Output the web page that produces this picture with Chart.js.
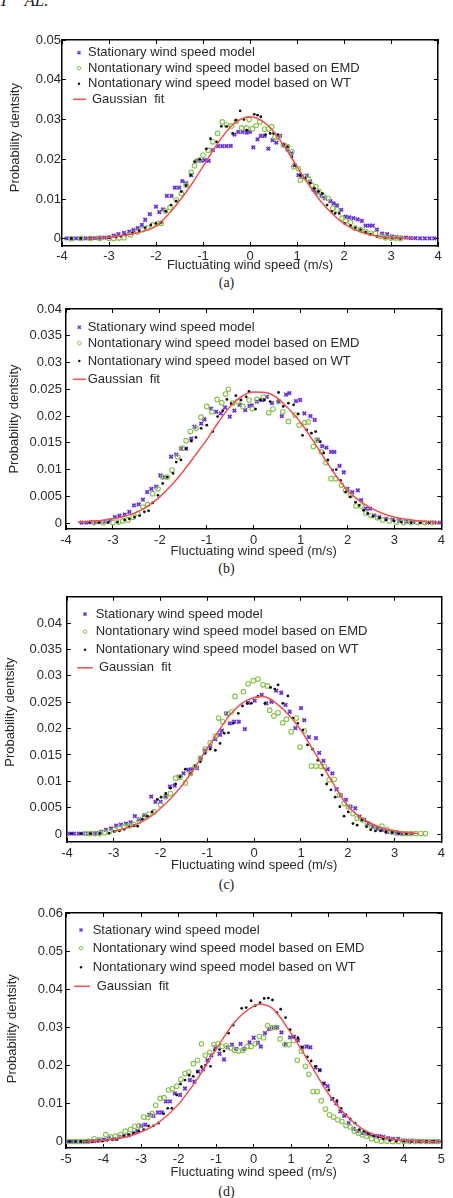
<!DOCTYPE html>
<html>
<head>
<meta charset="utf-8">
<script src="https://cdn.jsdelivr.net/npm/chart.js@4.4.1/dist/chart.umd.min.js"></script>
<style>
  html, body { margin: 0; padding: 0; background: #fff; }
  body { position: relative; width: 453px; height: 1198px; overflow: hidden; }
  canvas { position: absolute; left: 0; }
  .cap { position: absolute; left: 0; width: 453px; text-align: center; font: 14px "Liberation Serif", "Times New Roman", serif; color: #222; line-height: 16px; }
  .head { position: absolute; left: -1px; top: -9px; font: italic 17px "Liberation Serif", serif; color: #222; }
</style>
</head>
<body>
<div class="head">T<span style="margin-left:16px">AL.</span></div>

<canvas id="chartA" width="453" height="250" style="top:25px"></canvas>
<div class="cap" style="top:275px">(a)</div>
<canvas id="chartB" width="453" height="271" style="top:290px"></canvas>
<div class="cap" style="top:561px">(b)</div>
<canvas id="chartC" width="453" height="295" style="top:580px"></canvas>
<div class="cap" style="top:877px">(c)</div>
<canvas id="chartD" width="453" height="287" style="top:895px"></canvas>
<div class="cap" style="top:1184px">(d)</div>

<script>
// ---- data: [x (m/s), probability density] ----

// (a)
const aStationary = [[-3.9,0.0001],[-3.8,0.0001],[-3.7,0.0001],[-3.6,0.0001],[-3.5,0.0001],[-3.4,0.0002],[-3.3,0.0002],[-3.2,0.0003],[-3.1,0.0003],[-3.0,0.0004],[-2.9,0.0008],[-2.8,0.0012],[-2.68,0.0015],[-2.57,0.0018],[-2.48,0.0022],[-2.39,0.0027],[-2.3,0.0035],[-2.23,0.0048],[-2.13,0.0062],[-2.0,0.0081],[-1.93,0.0067],[-1.85,0.0074],[-1.77,0.0108],[-1.67,0.0108],[-1.6,0.0129],[-1.51,0.0129],[-1.44,0.0145],[-1.36,0.014],[-1.25,0.016],[-1.13,0.0196],[-1.04,0.0196],[-0.96,0.0198],[-0.88,0.0196],[-0.79,0.0223],[-0.68,0.0233],[-0.59,0.0233],[-0.5,0.0233],[-0.41,0.0234],[-0.33,0.0262],[-0.25,0.0269],[-0.16,0.0269],[-0.07,0.0267],[0.0,0.0269],[0.07,0.023],[0.16,0.025],[0.23,0.0259],[0.31,0.0259],[0.39,0.0227],[0.48,0.0248],[0.56,0.0242],[0.64,0.0259],[0.73,0.0236],[0.8,0.0225],[0.88,0.0215],[0.95,0.0185],[1.03,0.016],[1.1,0.0156],[1.21,0.0159],[1.28,0.0144],[1.35,0.0124],[1.42,0.0116],[1.52,0.0109],[1.6,0.0102],[1.71,0.0095],[1.78,0.0089],[1.85,0.0084],[1.94,0.0073],[2.03,0.0056],[2.11,0.0054],[2.2,0.0052],[2.29,0.0049],[2.38,0.0045],[2.46,0.0033],[2.54,0.0033],[2.61,0.0033],[2.7,0.0023],[2.81,0.0013],[2.92,0.0012],[3.02,0.0006],[3.12,0.0004],[3.22,0.0003],[3.32,0.0003],[3.42,0.0002],[3.52,0.0002],[3.62,0.0001],[3.72,0.0001],[3.82,0.0001],[3.92,0.0001]];
const aEmd = [[-3.8,0.0],[-3.6,0.0001],[-3.4,0.0001],[-3.2,0.0001],[-3.0,0.0001],[-2.9,0.0001],[-2.79,0.0002],[-2.68,0.0003],[-2.54,0.001],[-2.39,0.0017],[-2.29,0.0023],[-2.18,0.0027],[-2.07,0.0035],[-1.96,0.0039],[-1.89,0.0039],[-1.8,0.007],[-1.7,0.0079],[-1.57,0.0098],[-1.46,0.0114],[-1.36,0.0135],[-1.25,0.0167],[-1.18,0.0184],[-1.09,0.0198],[-1.0,0.021],[-0.89,0.0223],[-0.79,0.0244],[-0.69,0.0265],[-0.59,0.0294],[-0.5,0.0286],[-0.39,0.0284],[-0.29,0.0296],[-0.18,0.0279],[-0.07,0.0279],[-0.02,0.03],[0.05,0.0277],[0.13,0.0285],[0.21,0.0294],[0.31,0.0276],[0.39,0.0276],[0.46,0.0282],[0.53,0.0256],[0.6,0.0256],[0.71,0.0236],[0.8,0.0232],[0.89,0.0219],[0.93,0.0181],[1.03,0.0176],[1.07,0.0148],[1.16,0.0156],[1.25,0.015],[1.32,0.0135],[1.4,0.0131],[1.47,0.0119],[1.57,0.0106],[1.66,0.0102],[1.76,0.0077],[1.85,0.0073],[1.96,0.0052],[2.03,0.0045],[2.14,0.0042],[2.23,0.0027],[2.35,0.0023],[2.46,0.0018],[2.56,0.0014],[2.67,0.0014],[2.78,0.0006],[2.88,0.0003],[3.0,0.0002],[3.1,0.0002],[3.2,0.0001]];
const aWt = [[-3.8,0.0001],[-3.6,0.0001],[-3.4,0.0002],[-3.2,0.0002],[-3.0,0.0003],[-2.85,0.0005],[-2.75,0.0007],[-2.64,0.001],[-2.5,0.0014],[-2.36,0.002],[-2.23,0.0028],[-2.11,0.0035],[-2.0,0.0039],[-1.89,0.0041],[-1.79,0.0069],[-1.68,0.0085],[-1.57,0.0095],[-1.46,0.0119],[-1.36,0.0134],[-1.26,0.016],[-1.18,0.0194],[-1.07,0.02],[-0.93,0.0226],[-0.84,0.0252],[-0.71,0.0244],[-0.61,0.0283],[-0.5,0.0283],[-0.37,0.0265],[-0.3,0.0298],[-0.21,0.0322],[-0.13,0.03],[-0.07,0.0273],[0.09,0.0313],[0.16,0.0311],[0.23,0.0307],[0.33,0.0262],[0.43,0.0265],[0.5,0.0265],[0.59,0.0262],[0.71,0.0237],[0.8,0.0232],[0.89,0.0206],[0.96,0.0185],[1.07,0.016],[1.17,0.0152],[1.28,0.014],[1.37,0.0127],[1.46,0.0119],[1.54,0.0114],[1.64,0.0085],[1.74,0.0069],[1.81,0.0064],[1.9,0.0064],[2.01,0.0039],[2.14,0.0033],[2.24,0.0028],[2.35,0.0023],[2.46,0.0017],[2.56,0.0012],[2.7,0.0006],[2.88,0.0003],[3.02,0.0002],[3.2,0.0001]];
const aGauss = [[-3.5,0.0001],[-3.25,0.0002],[-3,0.0004],[-2.75,0.0008],[-2.5,0.0013],[-2.25,0.002],[-2,0.0032],[-1.75,0.006],[-1.5,0.0095],[-1.25,0.0136],[-1,0.0182],[-0.75,0.0229],[-0.5,0.027],[-0.25,0.0297],[0,0.0307],[0.25,0.0297],[0.5,0.027],[0.75,0.0229],[1,0.0182],[1.25,0.0136],[1.5,0.0095],[1.75,0.0063],[2,0.0038],[2.25,0.0022],[2.5,0.0012],[2.75,0.0006],[3,0.0003],[3.25,0.0002],[3.5,0.0001]];
const aXTicks = [-4, -3, -2, -1, 0, 1, 2, 3, 4];
const aYTicks = [0, 0.01, 0.02, 0.03, 0.04, 0.05];

// (b)
const bStationary = [[-3.67,0.0001],[-3.57,0.0001],[-3.47,0.0002],[-3.37,0.0002],[-3.27,0.0002],[-3.17,0.0003],[-3.07,0.0005],[-2.96,0.0011],[-2.86,0.0014],[-2.75,0.0016],[-2.65,0.0021],[-2.55,0.0033],[-2.45,0.0035],[-2.36,0.0044],[-2.27,0.0058],[-2.18,0.0064],[-2.08,0.0068],[-1.99,0.0089],[-1.9,0.0086],[-1.76,0.0124],[-1.65,0.0128],[-1.55,0.0139],[-1.44,0.0139],[-1.33,0.0158],[-1.26,0.018],[-1.12,0.0186],[-1.05,0.0194],[-0.91,0.0214],[-0.8,0.0208],[-0.7,0.0205],[-0.61,0.0216],[-0.51,0.0199],[-0.41,0.021],[-0.3,0.0221],[-0.18,0.0211],[-0.09,0.0219],[-0.04,0.022],[0.07,0.0227],[0.18,0.023],[0.28,0.0236],[0.39,0.0224],[0.53,0.0227],[0.6,0.02],[0.69,0.024],[0.76,0.0243],[0.9,0.0228],[0.99,0.023],[1.08,0.0205],[1.21,0.02],[1.3,0.0193],[1.37,0.0156],[1.46,0.0144],[1.55,0.0141],[1.65,0.0133],[1.72,0.0133],[1.83,0.0107],[1.92,0.0095],[2.0,0.0064],[2.1,0.0058],[2.22,0.0061],[2.29,0.0043],[2.39,0.0027],[2.48,0.0027],[2.57,0.0014],[2.68,0.0011],[2.82,0.0008],[2.96,0.0006],[3.1,0.0004],[3.25,0.0003],[3.4,0.0002],[3.55,0.0002],[3.7,0.0001],[3.85,0.0001],[3.97,0.0001]];
const bEmd = [[-3.4,0.0001],[-3.2,0.0001],[-3.0,0.0001],[-2.88,0.0002],[-2.79,0.0004],[-2.68,0.0006],[-2.57,0.0011],[-2.47,0.0018],[-2.36,0.003],[-2.26,0.0035],[-2.15,0.0055],[-2.04,0.0064],[-1.94,0.0086],[-1.84,0.0086],[-1.74,0.0099],[-1.62,0.0124],[-1.52,0.014],[-1.44,0.0154],[-1.35,0.0171],[-1.23,0.0177],[-1.12,0.0198],[-1.0,0.0218],[-0.89,0.0208],[-0.78,0.0231],[-0.68,0.0225],[-0.6,0.0241],[-0.54,0.025],[-0.45,0.0224],[-0.34,0.0227],[-0.23,0.0218],[-0.1,0.023],[-0.03,0.0214],[0.07,0.0231],[0.21,0.0235],[0.32,0.0206],[0.41,0.0213],[0.53,0.0227],[0.62,0.0208],[0.74,0.019],[0.88,0.0202],[0.97,0.0183],[1.09,0.0188],[1.16,0.0189],[1.27,0.0143],[1.35,0.0155],[1.44,0.0133],[1.54,0.0113],[1.65,0.0083],[1.75,0.0083],[1.87,0.0071],[1.96,0.0061],[2.06,0.0052],[2.18,0.0032],[2.29,0.0032],[2.39,0.0019],[2.5,0.0014],[2.64,0.001],[2.75,0.0006],[2.89,0.0004],[3.05,0.0002],[3.2,0.0001],[3.35,0.0001],[3.5,0.0001],[3.65,0.0001],[3.8,0.0001]];
const bWt = [[-3.5,0.0001],[-3.3,0.0001],[-3.1,0.0001],[-2.9,0.0002],[-2.75,0.0006],[-2.65,0.0008],[-2.54,0.0011],[-2.43,0.0014],[-2.33,0.0021],[-2.24,0.0023],[-2.15,0.0038],[-2.04,0.0052],[-1.94,0.0074],[-1.84,0.0086],[-1.72,0.0093],[-1.65,0.0114],[-1.55,0.0118],[-1.44,0.0139],[-1.33,0.0153],[-1.23,0.016],[-1.12,0.0177],[-1.0,0.0183],[-0.87,0.0171],[-0.77,0.0199],[-0.66,0.021],[-0.57,0.0231],[-0.48,0.0223],[-0.38,0.0238],[-0.27,0.023],[-0.16,0.0236],[-0.1,0.0246],[0.04,0.0213],[0.14,0.023],[0.23,0.023],[0.35,0.0227],[0.53,0.0244],[0.63,0.0218],[0.74,0.0224],[0.85,0.0221],[0.95,0.0204],[1.04,0.0164],[1.13,0.0174],[1.23,0.0168],[1.32,0.0171],[1.42,0.0152],[1.49,0.0131],[1.58,0.0118],[1.68,0.0099],[1.76,0.01],[1.85,0.008],[1.96,0.0058],[2.06,0.0049],[2.17,0.0039],[2.25,0.0033],[2.34,0.0024],[2.43,0.0018],[2.54,0.0013],[2.68,0.001],[2.82,0.0006],[2.99,0.0004],[3.15,0.0002],[3.35,0.0001],[3.55,0.0001],[3.75,0.0001]];
const bGauss = [[-3.75,0.0002],[-3.5,0.0003],[-3.25,0.0005],[-3,0.0008],[-2.75,0.0013],[-2.5,0.002],[-2.25,0.0032],[-2,0.0049],[-1.75,0.0071],[-1.5,0.0097],[-1.25,0.0126],[-1,0.0156],[-0.75,0.0189],[-0.5,0.0218],[-0.25,0.0237],[0,0.0245],[0.25,0.0244],[0.5,0.0234],[0.75,0.0213],[1,0.0188],[1.25,0.0156],[1.5,0.0122],[1.75,0.0089],[2,0.0061],[2.25,0.0042],[2.5,0.0028],[2.75,0.0018],[3,0.0011],[3.25,0.0007],[3.5,0.0004],[3.75,0.0002],[4,0.0001]];
const bXTicks = [-4, -3, -2, -1, 0, 1, 2, 3, 4];
const bYTicks = [0, 0.005, 0.01, 0.015, 0.02, 0.025, 0.03, 0.035, 0.04];

// (c)
const cStationary = [[-3.95,0.0001],[-3.85,0.0001],[-3.75,0.0001],[-3.65,0.0001],[-3.55,0.0001],[-3.45,0.0002],[-3.37,0.0002],[-3.27,0.0004],[-3.17,0.0008],[-3.06,0.0011],[-2.95,0.0016],[-2.85,0.0018],[-2.74,0.002],[-2.64,0.0022],[-2.55,0.0034],[-2.46,0.0028],[-2.35,0.0036],[-2.2,0.0071],[-2.11,0.0061],[-2.0,0.0061],[-1.89,0.0071],[-1.8,0.009],[-1.7,0.0092],[-1.61,0.0109],[-1.51,0.0115],[-1.4,0.0122],[-1.33,0.0123],[-1.22,0.0125],[-1.14,0.0143],[-1.05,0.0158],[-0.94,0.0167],[-0.83,0.018],[-0.73,0.0188],[-0.69,0.0196],[-0.6,0.0229],[-0.52,0.021],[-0.43,0.0213],[-0.33,0.0213],[-0.2,0.0199],[-0.13,0.0249],[0.01,0.0253],[0.16,0.0264],[0.26,0.0248],[0.37,0.0251],[0.47,0.0272],[0.58,0.0268],[0.67,0.0245],[0.76,0.0232],[0.88,0.0201],[1.0,0.0239],[1.07,0.0216],[1.17,0.0184],[1.32,0.0182],[1.39,0.0154],[1.48,0.0139],[1.57,0.0123],[1.67,0.0115],[1.76,0.0085],[1.85,0.0074],[1.96,0.0065],[2.06,0.0052],[2.16,0.0049],[2.25,0.0033],[2.35,0.0027],[2.44,0.002],[2.54,0.0014],[2.63,0.0011],[2.73,0.0008],[2.84,0.0004],[2.95,0.0003],[3.05,0.0001],[3.15,0.0001],[3.25,0.0001],[3.35,0.0001]];
const cEmd = [[-3.6,0.0001],[-3.5,0.0001],[-3.4,0.0001],[-3.3,0.0001],[-3.2,0.0003],[-3.1,0.0004],[-2.99,0.0008],[-2.88,0.0011],[-2.78,0.0014],[-2.67,0.0016],[-2.57,0.0018],[-2.46,0.0025],[-2.35,0.0034],[-2.25,0.0038],[-2.14,0.0042],[-2.0,0.0055],[-1.89,0.0071],[-1.79,0.0077],[-1.68,0.0106],[-1.58,0.0108],[-1.47,0.0097],[-1.36,0.0115],[-1.26,0.0128],[-1.15,0.0144],[-1.05,0.0161],[-0.94,0.0173],[-0.83,0.0186],[-0.76,0.022],[-0.67,0.0213],[-0.57,0.0228],[-0.48,0.0232],[-0.41,0.0261],[-0.23,0.027],[-0.13,0.0285],[-0.02,0.0291],[0.08,0.0294],[0.19,0.0283],[0.28,0.0281],[0.33,0.0235],[0.42,0.0224],[0.51,0.023],[0.61,0.0211],[0.69,0.0218],[0.79,0.0194],[0.9,0.022],[0.98,0.0165],[1.07,0.0196],[1.22,0.0129],[1.32,0.0129],[1.43,0.0128],[1.5,0.0128],[1.6,0.0103],[1.71,0.0104],[1.82,0.0074],[1.92,0.0058],[2.01,0.0052],[2.11,0.0039],[2.2,0.003],[2.31,0.0027],[2.42,0.0019],[2.52,0.0014],[2.63,0.0011],[2.73,0.0015],[2.84,0.0008],[2.95,0.0004],[3.05,0.0003],[3.16,0.0001],[3.26,0.0001],[3.36,0.0001],[3.46,0.0001],[3.56,0.0001],[3.66,0.0001]];
const cWt = [[-3.9,0.0001],[-3.7,0.0001],[-3.5,0.0001],[-3.3,0.0001],[-3.1,0.0002],[-2.99,0.0005],[-2.88,0.0006],[-2.78,0.0009],[-2.67,0.0014],[-2.57,0.0016],[-2.49,0.0015],[-2.39,0.0028],[-2.28,0.0034],[-2.18,0.0042],[-2.07,0.0066],[-1.99,0.007],[-1.89,0.0077],[-1.79,0.0087],[-1.68,0.0095],[-1.58,0.0109],[-1.47,0.0123],[-1.36,0.0115],[-1.26,0.0129],[-1.15,0.0137],[-1.05,0.0153],[-0.94,0.0161],[-0.83,0.0159],[-0.73,0.0172],[-0.64,0.0191],[-0.55,0.0192],[-0.45,0.021],[-0.34,0.0229],[-0.25,0.0243],[-0.15,0.0248],[-0.06,0.0248],[0.08,0.0261],[0.23,0.0248],[0.35,0.0278],[0.44,0.0275],[0.51,0.0283],[0.61,0.0248],[0.72,0.0262],[0.83,0.022],[0.93,0.021],[1.04,0.0197],[1.14,0.0169],[1.25,0.0161],[1.36,0.014],[1.45,0.0112],[1.55,0.0095],[1.64,0.0084],[1.73,0.007],[1.83,0.0052],[1.92,0.0034],[2.01,0.0042],[2.11,0.002],[2.2,0.0017],[2.3,0.0027],[2.4,0.0014],[2.49,0.0008],[2.59,0.0006],[2.7,0.0006],[2.81,0.0004],[2.95,0.0003],[3.09,0.0001],[3.25,0.0001]];
const cGauss = [[-3,0.0005],[-2.75,0.0011],[-2.5,0.0019],[-2.25,0.0031],[-2,0.0049],[-1.75,0.0071],[-1.5,0.0097],[-1.25,0.0129],[-1,0.0163],[-0.75,0.0197],[-0.5,0.0228],[-0.25,0.0249],[0,0.0259],[0.15,0.0261],[0.25,0.026],[0.5,0.0246],[0.75,0.0225],[1,0.0197],[1.25,0.0161],[1.5,0.0124],[1.75,0.0087],[2,0.0053],[2.25,0.0033],[2.5,0.002],[2.75,0.0011],[3,0.0006],[3.25,0.0003],[3.5,0.0001]];
const cXTicks = [-4, -3, -2, -1, 0, 1, 2, 3, 4];
const cYTicks = [0, 0.005, 0.01, 0.015, 0.02, 0.025, 0.03, 0.035, 0.04];

// (d)
const dStationary = [[-4.95,0.0001],[-4.85,0.0001],[-4.75,0.0001],[-4.65,0.0001],[-4.55,0.0001],[-4.45,0.0002],[-4.35,0.0002],[-4.25,0.0002],[-4.12,0.0004],[-3.99,0.0006],[-3.86,0.001],[-3.72,0.0008],[-3.59,0.0013],[-3.46,0.0015],[-3.33,0.0017],[-3.2,0.0023],[-3.1,0.0028],[-3.0,0.0042],[-2.89,0.0045],[-2.78,0.0071],[-2.67,0.0068],[-2.55,0.0077],[-2.45,0.0077],[-2.34,0.0106],[-2.23,0.0106],[-2.1,0.0127],[-1.96,0.0123],[-1.83,0.014],[-1.7,0.0162],[-1.58,0.0158],[-1.48,0.0184],[-1.35,0.019],[-1.23,0.0214],[-1.13,0.0227],[-1.02,0.0248],[-0.91,0.0231],[-0.79,0.0216],[-0.69,0.0248],[-0.58,0.0255],[-0.47,0.0244],[-0.35,0.0257],[-0.25,0.0244],[-0.11,0.0261],[0.0,0.0273],[0.11,0.026],[0.19,0.025],[0.3,0.0285],[0.41,0.0296],[0.53,0.03],[0.63,0.03],[0.74,0.0287],[0.85,0.0257],[0.97,0.0274],[1.07,0.0276],[1.18,0.0266],[1.29,0.0248],[1.41,0.025],[1.51,0.0248],[1.65,0.0195],[1.76,0.0188],[1.87,0.0153],[1.97,0.0146],[2.09,0.0112],[2.2,0.0101],[2.31,0.008],[2.41,0.0068],[2.53,0.0049],[2.66,0.0034],[2.76,0.0028],[2.88,0.0023],[2.99,0.0022],[3.1,0.0019],[3.23,0.0016],[3.35,0.0015],[3.45,0.0013],[3.58,0.001],[3.71,0.0008],[3.85,0.0008],[3.98,0.0004],[4.1,0.0003],[4.22,0.0003],[4.35,0.0002],[4.48,0.0002],[4.6,0.0001],[4.72,0.0001],[4.85,0.0001],[4.97,0.0001]];
const dEmd = [[-4.95,0.0001],[-4.84,0.0001],[-4.73,0.0001],[-4.62,0.0001],[-4.51,0.0001],[-4.4,0.0002],[-4.25,0.0008],[-4.12,0.0006],[-3.94,0.0019],[-3.81,0.0013],[-3.68,0.0015],[-3.55,0.0019],[-3.42,0.0028],[-3.28,0.0032],[-3.17,0.0041],[-3.05,0.0042],[-2.93,0.0065],[-2.82,0.0064],[-2.71,0.0074],[-2.61,0.0096],[-2.49,0.0114],[-2.39,0.0116],[-2.27,0.0136],[-2.17,0.0139],[-2.05,0.0146],[-1.94,0.0164],[-1.83,0.0179],[-1.73,0.0183],[-1.61,0.0205],[-1.5,0.0214],[-1.39,0.0257],[-1.29,0.0227],[-1.17,0.0235],[-1.06,0.0255],[-0.95,0.0257],[-0.84,0.025],[-0.73,0.0252],[-0.62,0.0246],[-0.51,0.024],[-0.4,0.0238],[-0.29,0.024],[-0.18,0.025],[-0.07,0.025],[0.04,0.0257],[0.15,0.0276],[0.26,0.0273],[0.37,0.0305],[0.48,0.0299],[0.59,0.03],[0.7,0.027],[0.83,0.0255],[0.94,0.0255],[1.06,0.0266],[1.16,0.0214],[1.27,0.0238],[1.38,0.0198],[1.47,0.0177],[1.58,0.0132],[1.69,0.0132],[1.8,0.0108],[1.91,0.0086],[2.02,0.0071],[2.13,0.0065],[2.24,0.0058],[2.35,0.0054],[2.46,0.0043],[2.57,0.0039],[2.68,0.0028],[2.79,0.0023],[2.9,0.0019],[3.01,0.0015],[3.14,0.0008],[3.27,0.0004],[3.4,0.0002],[3.55,0.0002],[3.7,0.0001],[3.85,0.0001],[4.0,0.0001],[4.15,0.0001],[4.3,0.0001],[4.45,0.0001],[4.6,0.0001],[4.75,0.0001],[4.9,0.0001]];
const dWt = [[-4.9,0.0001],[-4.75,0.0001],[-4.6,0.0001],[-4.45,0.0001],[-4.3,0.0001],[-4.15,0.0002],[-4.03,0.0002],[-3.9,0.0004],[-3.77,0.0006],[-3.64,0.0006],[-3.46,0.0016],[-3.33,0.0019],[-3.2,0.0023],[-3.06,0.0028],[-2.93,0.0032],[-2.8,0.0042],[-2.67,0.0042],[-2.54,0.0049],[-2.4,0.0074],[-2.29,0.0088],[-2.18,0.0088],[-2.05,0.0123],[-1.95,0.0152],[-1.83,0.0162],[-1.72,0.0175],[-1.61,0.0172],[-1.5,0.0184],[-1.39,0.0197],[-1.28,0.0201],[-1.15,0.0198],[-1.04,0.024],[-0.91,0.0242],[-0.79,0.0238],[-0.67,0.0285],[-0.55,0.0306],[-0.32,0.035],[-0.2,0.0352],[-0.07,0.037],[0.04,0.0357],[0.17,0.0365],[0.28,0.0376],[0.39,0.0377],[0.5,0.0372],[0.62,0.0339],[0.72,0.0348],[0.85,0.0326],[0.97,0.0294],[1.07,0.0274],[1.18,0.0273],[1.29,0.0248],[1.43,0.0223],[1.53,0.0212],[1.65,0.0198],[1.76,0.0188],[1.87,0.0153],[2.0,0.0136],[2.11,0.0114],[2.22,0.0108],[2.33,0.0088],[2.46,0.0071],[2.57,0.006],[2.7,0.0049],[2.82,0.0032],[2.94,0.0028],[3.05,0.0022],[3.19,0.0016],[3.32,0.0013],[3.45,0.0008],[3.63,0.0004],[3.8,0.0002],[4.0,0.0002],[4.2,0.0001],[4.4,0.0001],[4.6,0.0001],[4.8,0.0001]];
const dGauss = [[-4.5,0.0001],[-4,0.0004],[-3.5,0.0011],[-3,0.0026],[-2.5,0.0053],[-2,0.0099],[-1.5,0.0165],[-1,0.0243],[-0.5,0.0315],[0,0.0356],[0.15,0.0361],[0.5,0.035],[1,0.0284],[1.5,0.0205],[2,0.0125],[2.5,0.0066],[3,0.0028],[3.5,0.0011],[4,0.0004],[4.5,0.0001],[5,0.0]];
const dXTicks = [-5, -4, -3, -2, -1, 0, 1, 2, 3, 4, 5];
const dYTicks = [0, 0.01, 0.02, 0.03, 0.04, 0.05, 0.06];

const seriesLabels = [
  'Stationary wind speed model',
  'Nontationary wind speed model based on EMD',
  'Nontationary wind speed model based on WT',
  'Gaussian  fit'
];

// ---- styling ----
const FONT = '"Liberation Sans", Arial, Helvetica, sans-serif';
const TEXT = '#2a2a2a';
const PURPLE = '#6b35e0';
const GREEN = '#86c34a';
const BLACK = '#111';
const RED = '#ef5050';

// legend drawn inside the plot box, top-left
const insideLegend = {
  id: 'insideLegend',
  afterDatasetsDraw(chart, args, o) {
    const { ctx, chartArea: a } = chart;
    ctx.save();
    ctx.font = '13px ' + FONT;
    ctx.textBaseline = 'middle';
    chart.data.datasets.forEach((d, i) => {
      const y = a.top + o.rows[i];
      const mx = a.left + o.markerDx;
      let tx = a.left + o.textDx;
      if (d.mark === 'x') {
        ctx.strokeStyle = PURPLE; ctx.lineWidth = 1.5;
        ctx.beginPath();
        ctx.moveTo(mx - 1.5, y - 1.5); ctx.lineTo(mx + 1.5, y + 1.5);
        ctx.moveTo(mx - 1.5, y + 1.5); ctx.lineTo(mx + 1.5, y - 1.5);
        ctx.stroke();
      } else if (d.mark === 'o') {
        ctx.strokeStyle = GREEN; ctx.lineWidth = 1;
        ctx.beginPath(); ctx.arc(mx, y, 1.8, 0, Math.PI * 2); ctx.stroke();
      } else if (d.mark === '.') {
        ctx.fillStyle = BLACK;
        ctx.beginPath(); ctx.arc(mx, y, 1.2, 0, Math.PI * 2); ctx.fill();
      } else {
        ctx.strokeStyle = RED; ctx.lineWidth = 1.5;
        ctx.beginPath(); ctx.moveTo(a.left + o.line[0], y); ctx.lineTo(a.left + o.line[1], y); ctx.stroke();
        tx = a.left + o.lineTextDx;
      }
      ctx.fillStyle = TEXT;
      ctx.fillText(d.label, tx, y);
    });
    ctx.restore();
  }
};

const toXY = arr => arr.map(([x, y]) => ({ x, y }));

function axis(pos, min, max, ticks, p) {
  const horizontal = pos === 'bottom' || pos === 'top';
  const main = pos === 'bottom' || pos === 'left';
  return {
    type: 'linear',
    position: pos,
    min, max,
    afterBuildTicks: s => { s.ticks = ticks.map(v => ({ value: v })); },
    afterFit: s => {
      if (horizontal) s.height = main ? p.xAxisH : 0;
      else s.width = main ? p.yAxisW : 0;
    },
    ticks: {
      display: main,
      autoSkip: false,
      maxRotation: 0,
      color: TEXT,
      font: { family: FONT, size: 13 },
      padding: horizontal ? p.xTickPad : p.yTickPad,
      callback: v => String(v)
    },
    grid: { drawOnChartArea: false, drawTicks: true, tickLength: -4, color: '#000', lineWidth: 1 },
    border: { display: true, color: '#000', width: 1.5 },
    title: main ? {
      display: true,
      text: horizontal ? 'Fluctuating wind speed (m/s)' : p.yTitle,
      color: TEXT,
      font: { family: FONT, size: 13 },
      padding: horizontal ? { top: 0, bottom: 1.5 } : { top: p.yTitlePad, bottom: 0 }
    } : { display: false }
  };
}

function makePanel(id, p) {
  new Chart(document.getElementById(id), {
    type: 'scatter',
    data: {
      datasets: [
        { label: seriesLabels[0], mark: 'x', data: toXY(p.stat), order: 3,
          pointStyle: 'crossRot', pointRadius: 2.5, borderWidth: 1.8,
          borderColor: PURPLE, backgroundColor: PURPLE },
        { label: seriesLabels[1], mark: 'o', data: toXY(p.emd), order: 2,
          pointStyle: 'circle', pointRadius: 2.3, borderWidth: 1.1,
          borderColor: GREEN, backgroundColor: 'rgba(0,0,0,0)' },
        { label: seriesLabels[2], mark: '.', data: toXY(p.wt), order: 1,
          pointStyle: 'circle', pointRadius: 1.4, borderWidth: 0,
          borderColor: BLACK, backgroundColor: BLACK },
        { label: seriesLabels[3], mark: '-', type: 'line', data: toXY(p.gauss), order: 0,
          borderColor: RED, borderWidth: 1.5, pointRadius: 0, fill: false,
          cubicInterpolationMode: 'monotone' }
      ]
    },
    options: {
      responsive: false,
      animation: false,
      devicePixelRatio: 1,
      layout: { padding: { top: p.padTop, right: p.padRight, left: 0, bottom: 0 } },
      plugins: {
        legend: { display: false },
        tooltip: { enabled: false },
        insideLegend: p.legend
      },
      scales: {
        x: axis('bottom', p.xMin, p.xMax, p.xTicks, p),
        x2: axis('top', p.xMin, p.xMax, p.xTicks, p),
        y: axis('left', p.yMin, p.yMax, p.yTicks, p),
        y2: axis('right', p.yMin, p.yMax, p.yTicks, p)
      }
    },
    plugins: [insideLegend]
  });
}

makePanel('chartA', {
  stat: aStationary, emd: aEmd, wt: aWt, gauss: aGauss,
  xMin: -4, xMax: 4, xTicks: aXTicks, yMin: -0.0018, yMax: 0.05, yTicks: aYTicks,
  padTop: 15, padRight: 15, yAxisW: 62, xAxisH: 29,
  xTickPad: 7, yTickPad: 5, yTitlePad: 8, yTitle: '   Probability dentsity',
  legend: { rows: [12.7, 28.3, 43.7, 59.3], markerDx: 17, textDx: 26, line: [11, 24], lineTextDx: 30 }
});

makePanel('chartB', {
  stat: bStationary, emd: bEmd, wt: bWt, gauss: bGauss,
  xMin: -4, xMax: 4, xTicks: bXTicks, yMin: -0.0011, yMax: 0.04, yTicks: bYTicks,
  padTop: 19, padRight: 9, yAxisW: 66, xAxisH: 32,
  xTickPad: 8, yTickPad: 8, yTitlePad: 7, yTitle: 'Probability dentsity',
  legend: { rows: [18.3, 34.3, 52, 70.3], markerDx: 13.3, textDx: 21.7, line: [6.7, 20], lineTextDx: 21.7 }
});

makePanel('chartC', {
  stat: cStationary, emd: cEmd, wt: cWt, gauss: cGauss,
  xMin: -4, xMax: 4, xTicks: cXTicks, yMin: -0.0015, yMax: 0.045, yTicks: cYTicks,
  padTop: 16, padRight: 9, yAxisW: 67, xAxisH: 33,
  xTickPad: 8, yTickPad: 9, yTitlePad: 3, yTitle: '    Probability dentsity',
  legend: { rows: [17.3, 35, 53, 71], markerDx: 18, textDx: 28.7, line: [10.3, 25.7], lineTextDx: 32 }
});

makePanel('chartD', {
  stat: dStationary, emd: dEmd, wt: dWt, gauss: dGauss,
  xMin: -5, xMax: 5, xTicks: dXTicks, yMin: -0.0016, yMax: 0.06, yTicks: dYTicks,
  padTop: 18, padRight: 8, yAxisW: 66, xAxisH: 34,
  xTickPad: 8, yTickPad: 7, yTitlePad: 5, yTitle: ' Probability dentsity',
  legend: { rows: [17, 35.3, 54.3, 73.3], markerDx: 15, textDx: 26.7, line: [8, 24], lineTextDx: 30.7 }
});
</script>
</body>
</html>
